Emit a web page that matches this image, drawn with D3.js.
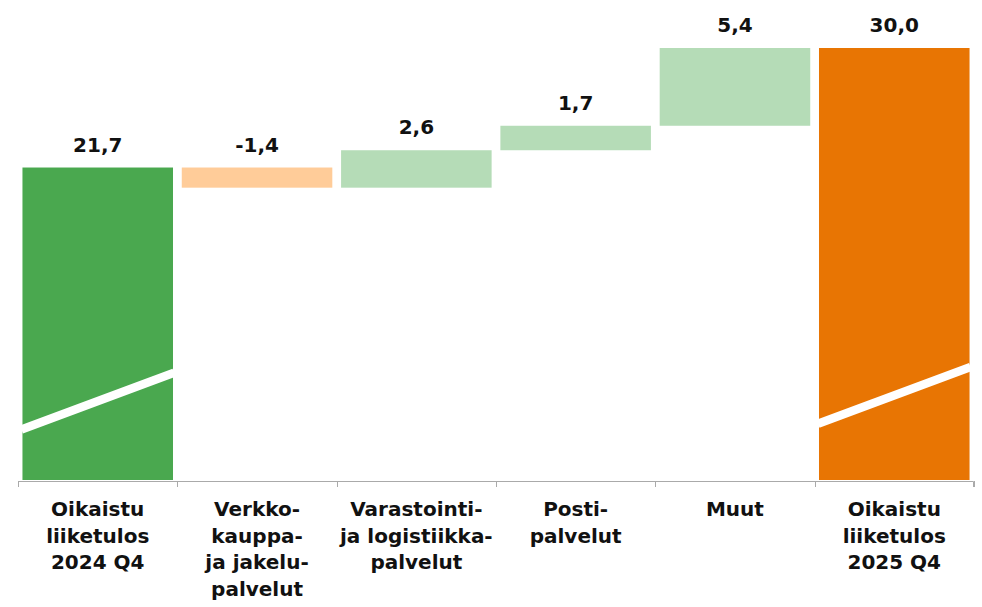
<!DOCTYPE html>
<html>
<head>
<meta charset="utf-8">
<script src="https://cdn.jsdelivr.net/npm/d3@7"></script>
<style>
  body{margin:0;background:#fff;}
  svg{display:block;}
  text{font-family:"DejaVu Sans",sans-serif;font-weight:700;fill:#111;}
</style>
</head>
<body>
<svg id="drawing_region"></svg>
<script>
// data
const categories = [
    "Oikaistu\nliiketulos\n2024 Q4",
    "Verkko-\nkauppa-\nja jakelu-\npalvelut",
    "Varastointi-\nja logistiikka-\npalvelut",
    "Posti-\npalvelut",
    "Muut",
    "Oikaistu\nliiketulos\n2025 Q4"
];
const values = [21.7, -1.4, 2.6, 1.7, 5.4, 30.0];
const kinds = ["total", "delta", "delta", "delta", "delta", "total"];
const yDomain = [0, 30];

const fiLocale = d3.formatLocale({decimal:",", thousands:" ", grouping:[3], currency:["","€"], minus:"-"});
const fmt = fiLocale.format(".1f");

class Waterfall{
    constructor(config,data){
        this.config = {
            parent:config.parent,
            width:config.width||982,
            height:config.height||607,
            margin:config.margin||{top:48,left:18,bottom:127,right:8}
        };
        this.data = data;
        this.init();
    }

    init(){
        let self = this;
        self.inner_width = self.config.width-self.config.margin.left-self.config.margin.right;
        self.inner_height = self.config.height-self.config.margin.top-self.config.margin.bottom;

        self.svg = d3.select(self.config.parent)
            .attr("width",self.config.width)
            .attr("height",self.config.height);

        self.chart = self.svg.append("g")
            .attr("transform",`translate(${self.config.margin.left},${self.config.margin.top})`);

        self.xscale = d3.scaleBand()
            .range([0,self.inner_width])
            .paddingInner(0.055)
            .paddingOuter(0.028);
        self.yscale = d3.scaleLinear()
            .range([self.inner_height,0]);

        self.xaxis_group = self.chart.append("g")
            .attr("transform",`translate(0,${self.inner_height+1})`);
    }

    update(){
        let self = this;
        let run = 0;
        self.data.forEach(d=>{
            if(d.kind==="total"){
                d.start = 0; d.end = d.value; run = d.value;
            }else{
                d.start = run; d.end = run+d.value; run = d.end;
            }
            d.top = Math.max(d.start,d.end);
            d.bottom = Math.min(d.start,d.end);
        });
        self.xscale.domain(self.data.map(d=>d.category));
        self.yscale.domain(yDomain);
        self.render();
    }

    color(d,i){
        if(d.kind==="total") return i===0 ? "#4aa84f" : "#e87503";
        return d.value<0 ? "#ffcc99" : "#b5dcb7";
    }

    render(){
        let self = this;
        const x = self.xscale, y = self.yscale;

        self.chart.selectAll("rect.bar")
            .data(self.data)
            .enter()
            .append("rect")
            .attr("class","bar")
            .attr("x",d=>x(d.category))
            .attr("width",x.bandwidth())
            .attr("y",d=>y(d.top))
            .attr("height",d=>y(d.bottom)-y(d.top))
            .attr("fill",(d,i)=>self.color(d,i));

        // axis break marks on the total bars
        self.chart.selectAll("line.brk")
            .data(self.data.filter(d=>d.kind==="total"))
            .enter()
            .append("line")
            .attr("class","brk")
            .attr("x1",d=>x(d.category)-1)
            .attr("x2",d=>x(d.category)+x.bandwidth()+1)
            .attr("y1",(d,i)=>y(i===0?3.5:3.9))
            .attr("y2",(d,i)=>y(i===0?7.45:7.85))
            .attr("stroke","#fff")
            .attr("stroke-width",8.5);

        self.chart.selectAll("text.val")
            .data(self.data)
            .enter()
            .append("text")
            .attr("class","val")
            .attr("x",d=>x(d.category)+x.bandwidth()/2)
            .attr("y",d=>y(d.kind==="total"?d.end:Math.max(d.start,d.end))-16)
            .attr("text-anchor","middle")
            .attr("font-size","20px")
            .text(d=>fmt(d.value));

        const axis = d3.axisBottom(x)
            .tickSize(6)
            .tickFormat("");
        self.xaxis_group.call(axis);
        self.xaxis_group.select(".domain")
            .attr("stroke","#aaa")
            .attr("d",`M0.5,6V0.5H${self.inner_width-0.5}V6`);
        self.xaxis_group.selectAll(".tick").remove();
        const edges = self.data.map(d=>x(d.category)-x.step()*x.paddingInner()/2);
        edges.push(self.inner_width);
        self.xaxis_group.selectAll("line.tk")
            .data(edges)
            .enter()
            .append("line")
            .attr("class","tk")
            .attr("x1",d=>Math.round(d)+0.5)
            .attr("x2",d=>Math.round(d)+0.5)
            .attr("y1",0)
            .attr("y2",6)
            .attr("stroke","#aaa");

        const labels = self.xaxis_group.selectAll("text.cat")
            .data(self.data)
            .enter()
            .append("text")
            .attr("class","cat")
            .attr("x",d=>x(d.category)+x.bandwidth()/2)
            .attr("y",35)
            .attr("text-anchor","middle")
            .attr("font-size","20px");
        labels.selectAll("tspan")
            .data(d=>d.category.split("\n").map(l=>({line:l,cx:x(d.category)+x.bandwidth()/2})))
            .enter()
            .append("tspan")
            .attr("x",t=>t.cx)
            .attr("dy",(t,i)=>i===0?0:26.5)
            .text(t=>t.line);
    }
}

const data = categories.map((c,i)=>({category:c,value:values[i],kind:kinds[i]}));
const chart = new Waterfall({parent:"#drawing_region",width:982,height:607},data);
chart.update();
</script>
</body>
</html>
